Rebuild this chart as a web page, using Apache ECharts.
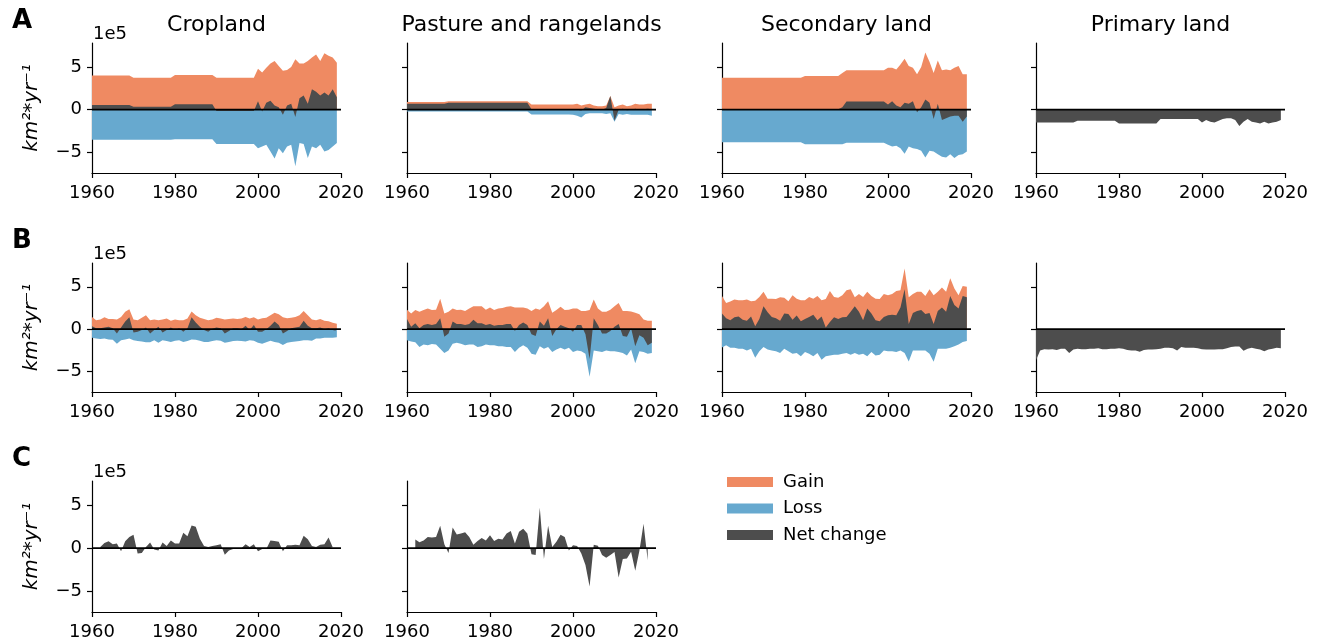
<!DOCTYPE html>
<html>
<head>
<meta charset="utf-8">
<script src="https://cdn.jsdelivr.net/npm/echarts@6/dist/echarts.min.js"></script>
<style>
html,body{margin:0;padding:0;background:#fff;}
#chart{width:1320px;height:643px;}
</style>
</head>
<body>
<div id="chart"></div>
<script>
// ---------- DATA (units of 1e5 km2 per year) ----------
const years = [];
for (let y = 1960; y <= 2019; y++) years.push(y);
const yearsC = years.slice(2, 59); // 1962-2018

const columnTitles = ['Cropland', 'Pasture and rangelands', 'Secondary land', 'Primary land'];
const rowLetters = ['A', 'B', 'C'];
const xTicks = [1960, 1980, 2000, 2020];
const yTicks = [-5, 0, 5];
const legendNames = ['Gain', 'Loss', 'Net change'];

// Row A
const cropA_gain = [4.0,4.0,4.0,4.0,4.0,4.0,4.0,4.0,4.0,4.0,
  3.75,3.75,3.75,3.75,3.75,3.75,3.75,3.75,3.75,3.75,
  4.05,4.05,4.05,4.05,4.05,4.05,4.05,4.05,4.05,4.05,
  3.75,3.75,3.75,3.75,3.75,3.75,3.75,3.75,3.75,3.75,
  4.8,4.35,4.9,5.4,5.7,5.1,4.55,4.65,5.0,5.9,5.4,5.4,5.7,6.1,6.45,5.7,6.6,6.3,6.1,5.5];
const cropA_loss = [-3.5,-3.5,-3.5,-3.5,-3.5,-3.5,-3.5,-3.5,-3.5,-3.5,
  -3.5,-3.5,-3.5,-3.5,-3.5,-3.5,-3.5,-3.5,-3.5,-3.5,
  -3.45,-3.45,-3.45,-3.45,-3.45,-3.45,-3.45,-3.45,-3.45,-3.45,
  -4.0,-4.0,-4.0,-4.0,-4.0,-4.0,-4.0,-4.0,-4.0,-4.0,
  -4.5,-4.3,-4.1,-4.9,-5.7,-4.5,-5.1,-4.3,-4.1,-6.6,-3.9,-4.0,-5.65,-4.3,-4.5,-4.1,-4.9,-4.7,-4.3,-3.9];
const cropA_net = [0.55,0.55,0.55,0.55,0.55,0.55,0.55,0.55,0.55,0.55,
  0.35,0.35,0.35,0.35,0.35,0.35,0.35,0.35,0.35,0.35,
  0.65,0.65,0.65,0.65,0.65,0.65,0.65,0.65,0.65,0.65,
  -0.15,-0.15,-0.15,-0.15,-0.15,-0.15,-0.15,-0.15,-0.15,-0.15,
  1.0,-0.2,0.8,1.05,0.5,0.3,-0.6,0.5,0.7,-0.85,1.35,1.65,0.7,2.4,2.1,1.65,2.0,1.65,2.4,1.45];

const pastA_gain = [0.9,0.9,0.9,0.9,0.9,0.9,0.9,0.9,0.9,0.9,
  1.0,1.0,1.0,1.0,1.0,1.0,1.0,1.0,1.0,1.0,
  1.0,1.0,1.0,1.0,1.0,1.0,1.0,1.0,1.0,1.0,
  0.6,0.6,0.6,0.6,0.6,0.6,0.6,0.6,0.6,0.6,
  0.6,0.7,0.5,0.6,0.7,0.5,0.4,0.4,0.5,1.6,0.3,0.5,0.6,0.4,0.5,0.7,0.6,0.6,0.7,0.7];
const pastA_loss = [-0.2,-0.2,-0.2,-0.2,-0.2,-0.2,-0.2,-0.2,-0.2,-0.2,
  -0.2,-0.2,-0.2,-0.2,-0.2,-0.2,-0.2,-0.2,-0.2,-0.2,
  -0.2,-0.2,-0.2,-0.2,-0.2,-0.2,-0.2,-0.2,-0.2,-0.2,
  -0.55,-0.55,-0.55,-0.55,-0.55,-0.55,-0.55,-0.55,-0.55,-0.55,
  -0.6,-0.7,-0.9,-0.5,-0.4,-0.4,-0.4,-0.4,-0.5,-0.4,-1.4,-0.5,-0.6,-0.5,-0.6,-0.6,-0.6,-0.6,-0.6,-0.7];
const pastA_net = [0.7,0.7,0.7,0.7,0.7,0.7,0.7,0.7,0.7,0.7,
  0.8,0.8,0.8,0.8,0.8,0.8,0.8,0.8,0.8,0.8,
  0.8,0.8,0.8,0.8,0.8,0.8,0.8,0.8,0.8,0.8,
  0.05,0.05,0.05,0.05,0.05,0.05,0.05,0.05,0.05,0.05,
  0.0,0.0,-0.1,0.3,0.2,0.1,0.05,0.0,0.2,1.6,-1.3,0.0,0.1,-0.05,0.0,0.1,0.0,0.05,0.1,0.05];

const secA_gain = [3.73,3.73,3.73,3.73,3.73,3.73,3.73,3.73,3.73,3.73,
  3.75,3.75,3.75,3.75,3.75,3.75,3.75,3.75,3.75,3.75,
  3.95,3.95,3.95,3.95,3.95,3.95,3.95,3.95,3.95,4.3,
  4.6,4.6,4.6,4.6,4.6,4.6,4.6,4.6,4.6,4.6,
  4.9,4.9,4.7,5.3,5.95,5.1,4.9,4.15,5.0,6.7,5.6,4.3,5.75,4.6,4.7,4.6,4.9,5.1,4.15,4.15];
const secA_loss = [-3.8,-3.8,-3.8,-3.8,-3.8,-3.8,-3.8,-3.8,-3.8,-3.8,
  -3.8,-3.8,-3.8,-3.8,-3.8,-3.8,-3.8,-3.8,-3.8,-3.8,
  -4.05,-4.05,-4.05,-4.05,-4.05,-4.05,-4.05,-4.05,-4.05,-4.05,
  -3.85,-3.85,-3.85,-3.85,-3.85,-3.85,-3.85,-3.85,-3.85,-3.85,
  -4.1,-4.3,-4.2,-4.5,-5.15,-4.3,-4.5,-4.6,-4.8,-5.6,-4.8,-4.9,-5.2,-5.5,-5.6,-5.2,-5.65,-5.3,-5.2,-4.9];
const secA_net = [0.05,0.05,0.05,0.05,0.05,0.05,0.05,0.05,0.05,0.05,
  0.05,0.05,0.05,0.05,0.05,0.05,0.05,0.05,0.05,0.05,
  0.05,0.05,0.05,0.05,0.05,0.05,0.05,0.05,0.05,0.3,
  0.95,0.95,0.95,0.95,0.95,0.95,0.95,0.95,0.95,0.95,
  0.6,1.0,0.5,0.3,0.8,0.7,1.0,-0.3,0.3,1.2,0.8,-1.1,0.7,-1.2,-1.0,-0.8,-0.7,-0.7,-1.4,-0.8];

const primA_net = [-1.5,-1.5,-1.5,-1.5,-1.5,-1.5,-1.5,-1.5,-1.5,-1.5,
  -1.3,-1.3,-1.3,-1.3,-1.3,-1.3,-1.3,-1.3,-1.3,-1.3,
  -1.6,-1.6,-1.6,-1.6,-1.6,-1.6,-1.6,-1.6,-1.6,-1.6,
  -1.1,-1.1,-1.1,-1.1,-1.1,-1.1,-1.1,-1.1,-1.1,-1.1,
  -1.5,-1.2,-1.4,-1.5,-1.3,-1.1,-1.0,-1.0,-1.2,-1.9,-1.4,-1.1,-1.4,-1.5,-1.6,-1.4,-1.6,-1.5,-1.4,-1.2];

// Row B
const cropB_gain = [1.45,1.05,1.15,1.4,1.2,1.2,1.15,1.45,2.05,2.35,
  1.15,1.05,1.35,1.65,1.05,1.15,1.05,1.15,1.25,1.0,
  1.15,1.05,1.05,1.25,2.1,1.65,1.35,1.2,1.05,1.15,
  1.35,1.25,1.15,1.2,1.25,1.2,1.25,1.45,1.25,1.4,
  1.15,1.3,1.35,1.65,1.95,1.75,1.4,1.3,1.35,1.45,1.65,2.15,1.65,1.15,1.05,1.2,1.0,0.95,0.75,0.65];
const cropB_loss = [-1.0,-1.1,-1.15,-1.1,-1.2,-1.25,-1.7,-1.3,-1.2,-1.1,
  -1.3,-1.4,-1.45,-1.55,-1.55,-1.3,-1.6,-1.3,-1.4,-1.5,
  -1.35,-1.3,-1.5,-1.4,-1.2,-1.25,-1.35,-1.5,-1.5,-1.4,
  -1.3,-1.35,-1.6,-1.5,-1.4,-1.35,-1.4,-1.45,-1.3,-1.35,
  -1.6,-1.7,-1.55,-1.35,-1.5,-1.6,-1.85,-1.6,-1.5,-1.45,-1.4,-1.3,-1.3,-1.35,-1.1,-1.1,-1.0,-1.0,-1.0,-0.95];
const cropB_net = [0.35,0.1,0.1,0.2,0.3,0.1,-0.5,0.2,0.9,1.4,
  -0.4,-0.3,-0.1,0.2,-0.5,-0.1,0.3,-0.4,-0.1,0.2,
  -0.1,0.1,-0.3,0.1,1.4,0.8,0.3,-0.1,-0.3,0.05,
  0.2,0.1,-0.5,-0.2,0.1,0.1,0.0,0.4,-0.1,0.5,
  -0.3,-0.3,0.0,0.4,0.9,0.5,-0.5,-0.2,0.1,0.2,0.3,1.0,0.4,0.1,0.1,0.2,0.0,0.1,-0.1,-0.2];

const pastB_gain = [2.3,1.85,2.25,2.05,2.25,2.45,2.25,2.3,3.6,1.85,
  2.05,2.45,2.25,2.3,2.15,2.45,2.7,2.7,2.7,2.3,
  2.55,2.25,2.45,2.5,2.65,2.7,2.55,2.55,2.55,2.45,
  2.15,2.45,2.3,2.7,3.3,1.95,2.25,2.65,2.25,2.3,
  2.45,2.45,2.15,2.15,2.25,3.5,2.45,2.05,2.05,2.3,2.7,3.1,2.15,2.15,2.1,1.95,1.75,1.15,1.0,1.0];
const pastB_loss = [-1.3,-1.45,-1.55,-2.1,-1.8,-1.9,-1.75,-1.8,-2.3,-2.8,
  -2.5,-1.7,-1.6,-1.7,-1.9,-1.8,-1.8,-2.1,-2.0,-1.8,
  -1.9,-1.9,-2.0,-2.0,-2.1,-2.1,-2.7,-2.2,-1.9,-2.2,
  -2.9,-3.0,-2.0,-2.3,-2.1,-2.7,-2.4,-2.2,-2.4,-2.2,
  -2.7,-2.5,-2.6,-2.9,-5.6,-2.5,-2.6,-2.7,-2.5,-2.6,-2.6,-2.7,-2.8,-3.1,-2.4,-4.0,-2.6,-2.7,-2.9,-2.8];
const pastB_net = [1.2,0.3,0.7,0.1,0.5,0.6,0.5,0.6,1.3,-0.9,
  -0.5,0.9,0.6,0.6,0.5,0.6,1.1,0.7,0.7,0.5,
  0.6,0.4,0.5,0.5,0.6,0.6,-0.2,0.5,0.8,0.5,
  -0.6,-0.8,0.9,0.4,1.3,-0.8,0.0,0.5,0.3,0.1,
  -0.3,0.5,0.5,-0.6,-3.5,1.3,0.5,-0.5,-0.5,-0.2,0.3,0.6,-0.8,-0.9,0.1,-2.0,-0.7,-1.0,-1.9,-1.6];

const secB_gain = [3.9,3.1,3.25,3.5,3.4,3.4,3.5,3.3,3.35,3.8,
  4.4,3.6,3.6,3.55,3.75,3.7,3.3,4.0,3.6,3.4,
  3.4,3.8,3.6,3.9,3.4,3.55,4.5,3.8,3.7,4.0,
  4.6,4.7,3.75,4.15,3.8,4.4,3.9,3.6,3.55,4.15,
  4.0,4.15,4.5,4.6,7.15,3.75,4.15,4.4,4.4,3.9,4.7,4.0,4.4,4.9,4.4,6.0,4.8,4.0,5.1,5.0];
const secB_loss = [-2.15,-1.9,-2.2,-2.2,-2.3,-2.3,-2.5,-2.3,-3.35,-2.6,
  -2.1,-2.4,-2.5,-2.6,-2.8,-2.3,-2.6,-2.9,-2.8,-3.2,
  -2.7,-2.9,-3.2,-2.8,-3.6,-3.2,-3.1,-3.0,-3.0,-2.9,
  -2.8,-3.0,-2.8,-3.0,-2.9,-3.2,-2.7,-3.1,-3.0,-2.5,
  -2.6,-2.6,-2.7,-2.5,-2.8,-3.8,-2.5,-2.5,-2.5,-2.5,-2.9,-3.85,-2.3,-2.3,-2.3,-2.2,-2.0,-1.8,-1.5,-1.4];
const secB_net = [1.85,1.3,1.05,1.4,1.5,1.1,1.0,1.5,0.35,1.2,
  2.7,2.0,1.45,1.3,1.0,1.85,1.8,1.1,1.6,0.95,
  1.2,1.45,1.7,1.05,1.5,0.2,0.85,1.4,1.2,1.4,
  1.45,2.05,2.7,2.05,1.05,2.45,1.85,1.05,0.95,1.45,
  1.65,1.7,1.65,2.55,4.7,0.6,1.9,2.15,2.25,1.8,1.9,0.6,2.15,2.55,2.05,3.9,2.85,2.45,3.9,3.75];

const primB_net = [-3.65,-2.5,-2.35,-2.4,-2.35,-2.45,-2.3,-2.3,-2.8,-2.4,
  -2.3,-2.35,-2.35,-2.3,-2.3,-2.25,-2.35,-2.35,-2.3,-2.3,
  -2.25,-2.3,-2.45,-2.5,-2.5,-2.65,-2.45,-2.4,-2.4,-2.35,
  -2.3,-2.2,-2.2,-2.25,-2.5,-2.1,-2.2,-2.2,-2.2,-2.25,
  -2.35,-2.4,-2.4,-2.4,-2.35,-2.35,-2.25,-2.1,-2.05,-2.05,-2.55,-2.3,-2.2,-2.3,-2.4,-2.6,-2.4,-2.3,-2.2,-2.25];

// Row C (1962-2018)
const cropC_net = [0.15,0.6,0.8,0.45,0.55,-0.35,0.8,1.3,1.55,-0.6,
  -0.55,0.15,0.65,-0.15,-0.25,0.65,0.25,0.9,0.55,0.55,
  1.8,1.4,2.65,2.5,1.1,0.25,0.15,0.25,0.35,0.45,
  -0.75,-0.25,-0.1,-0.05,0.0,0.45,0.15,0.45,-0.35,-0.1,
  -0.1,0.9,0.85,0.75,-0.35,0.35,0.35,0.4,0.35,1.45,
  1.05,0.25,0.15,0.4,0.45,1.25,0.1];
const pastC_net = [1.0,0.7,0.9,1.3,1.25,1.3,2.6,0.45,-0.55,2.4,
  1.6,1.7,1.85,1.3,0.4,0.85,1.2,0.9,1.5,0.85,
  1.1,1.0,1.7,2.0,0.55,1.9,2.25,1.7,-0.7,-0.8,
  4.7,-1.25,2.6,0.15,0.75,1.55,1.3,-0.25,0.35,0.25,
  -0.6,-1.95,-4.45,0.4,0.3,-0.8,-1.1,-0.8,-0.45,-3.4,
  -1.25,-1.2,-0.4,-2.6,-0.3,2.85,-1.4];

// ---------- COLOURS ----------
const COL_GAIN = '#ef8a62';
const COL_LOSS = '#67a9cf';
const COL_NET = '#4d4d4d';

// ---------- LAYOUT ----------
const colLeft = [92, 407, 722, 1036];
const rowTop = [43, 263, 481];
const rowH = [130, 129, 131];
const gridW = 249;

const panels = [
  {r:0,c:0,x:years,gain:cropA_gain,loss:cropA_loss,net:cropA_net},
  {r:0,c:1,x:years,gain:pastA_gain,loss:pastA_loss,net:pastA_net},
  {r:0,c:2,x:years,gain:secA_gain,loss:secA_loss,net:secA_net},
  {r:0,c:3,x:years,net:primA_net},
  {r:1,c:0,x:years,gain:cropB_gain,loss:cropB_loss,net:cropB_net},
  {r:1,c:1,x:years,gain:pastB_gain,loss:pastB_loss,net:pastB_net},
  {r:1,c:2,x:years,gain:secB_gain,loss:secB_loss,net:secB_net},
  {r:1,c:3,x:years,net:primB_net},
  {r:2,c:0,x:yearsC,net:cropC_net},
  {r:2,c:1,x:yearsC,net:pastC_net}
];

const FONT = 'DejaVu Sans';
const grids = [], xAxes = [], yAxes = [], series = [], titles = [];

function pairs(xs, vs){ return vs.map((v,i)=>[xs[i], v]); }

panels.forEach((p, i) => {
  grids.push({left: colLeft[p.c], top: rowTop[p.r], width: gridW, height: rowH[p.r]});
  xAxes.push({
    type:'value', gridIndex:i, min:1960, max:2020, interval:20,
    axisLine:{show:true, onZero:false, lineStyle:{color:'#000', width:1.2}},
    axisTick:{show:true, length:5, customValues:xTicks, lineStyle:{color:'#000', width:1.2}},
    axisLabel:{show:true, customValues:xTicks, color:'#000', fontSize:18, fontFamily:FONT, margin:11,
      formatter: v => String(v)},
    splitLine:{show:false}
  });
  const first = p.c === 0;
  yAxes.push({
    type:'value', gridIndex:i, min:-7.4, max:7.8,
    axisLine:{show:true, onZero:false, lineStyle:{color:'#000', width:1.2}},
    axisTick:{show:true, length:5, customValues:yTicks, lineStyle:{color:'#000', width:1.2}},
    axisLabel:{show:first, customValues:yTicks, color:'#000', fontSize:18, fontFamily:FONT, margin:10,
      formatter: v => (v < 0 ? '\u2212' + Math.abs(v) : String(v))},
    splitLine:{show:false},
    name: first ? 'km\u00b2*yr\u207b\u00b9' : '',
    nameLocation:'middle', nameRotate:90, nameGap:50,
    nameTextStyle:{fontSize:20, fontFamily:FONT, fontStyle:'italic', color:'#000'}
  });
  if (p.gain) series.push({name:'Gain', type:'line', xAxisIndex:i, yAxisIndex:i, data:pairs(p.x,p.gain),
    symbol:'none', lineStyle:{width:0}, itemStyle:{color:COL_GAIN}, areaStyle:{color:COL_GAIN, opacity:1}, z:2, silent:true});
  if (p.loss) series.push({name:'Loss', type:'line', xAxisIndex:i, yAxisIndex:i, data:pairs(p.x,p.loss),
    symbol:'none', lineStyle:{width:0}, itemStyle:{color:COL_LOSS}, areaStyle:{color:COL_LOSS, opacity:1}, z:2, silent:true});
  series.push({name:'Net change', type:'line', xAxisIndex:i, yAxisIndex:i, data:pairs(p.x,p.net),
    symbol:'none', lineStyle:{width:0}, itemStyle:{color:COL_NET}, areaStyle:{color:COL_NET, opacity:1}, z:3, silent:true});
  series.push({name:'zero', type:'line', xAxisIndex:i, yAxisIndex:i, data:[[1960,0],[2020,0]],
    symbol:'none', lineStyle:{width:1.8, color:'#000'}, z:4, silent:true});
  if (p.c === 0) {
    titles.push({text:'1e5', left: colLeft[0] + 1, top: rowTop[p.r] - 18, padding:0,
      textStyle:{fontSize:18, fontWeight:'normal', fontFamily:FONT, color:'#000'}});
    titles.push({text: rowLetters[p.r], left: 12, top: rowTop[p.r] - 35, padding:0,
      textStyle:{fontSize:26, fontWeight:'bold', fontFamily:FONT, color:'#000'}});
  }
  if (p.r === 0) {
    titles.push({text: columnTitles[p.c], left: colLeft[p.c] + gridW/2, textAlign:'center', top: 14, padding:0,
      textStyle:{fontSize:22, fontWeight:'normal', fontFamily:FONT, color:'#000'}});
  }
});

const chart = echarts.init(document.getElementById('chart'), null, {renderer:'canvas'});
chart.setOption({
  animation:false,
  backgroundColor:'#fff',
  title: titles,
  grid: grids,
  xAxis: xAxes,
  yAxis: yAxes,
  legend: {
    data: legendNames.map(n => ({name:n, icon:'rect'})),
    orient:'vertical', left:727, top:473, itemWidth:46, itemHeight:10, itemGap:8.5, padding:0,
    textStyle:{fontSize:18, fontFamily:FONT, color:'#000', padding:[0,0,0,5]}, selectedMode:false
  },
  series: series
});
</script>
</body>
</html>
